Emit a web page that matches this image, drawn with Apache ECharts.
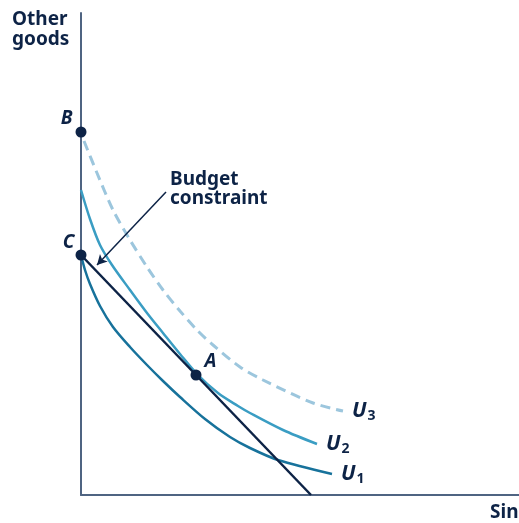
<!DOCTYPE html>
<html>
<head>
<meta charset="utf-8">
<script src="https://cdn.jsdelivr.net/npm/echarts@6/dist/echarts.min.js"></script>
<style>
  html, body { margin: 0; padding: 0; background: #fff; }
  #chart { width: 519px; height: 523px; }
</style>
</head>
<body>
<div id="chart"></div>
<script>
// values (x = sin, y = other goods, arbitrary units)
var budgetLine = [[0, 240], [230, 0]];
var u1 = [[0, 240], [4, 225], [9, 211], [19, 189], [32, 168], [49, 148], [66, 130],
	[82, 114], [99, 98], [124, 76], [149, 58], [169, 47], [197, 35], [251, 21]];
var u2 = [[0, 305], [9, 276], [19, 250], [31, 230], [49, 205], [66, 182], [82, 162],
	[99, 141], [116, 121], [137, 102], [157, 89], [169, 82], [202, 65], [236, 51]];
var u3 = [[3, 354], [16, 322], [32, 285], [49, 255], [66, 228], [82, 205], [99, 184],
	[116, 165], [132, 150], [159, 128], [182, 115], [232, 92], [262, 84]];
var points = [
	{ name: 'B', value: [0, 363] },
	{ name: 'C', value: [0, 240] },
	{ name: 'A', value: [115, 120] }
];
var arrowFrom = [85, 303];
var arrowTo = [16, 230];

var navy = '#0d2346';
var font = 'Noto Sans';

function uLabel(n) {
	return {
		show: true,
		distance: 9,
		formatter: '{u|U}{s|' + n + '}',
		rich: {
			u: { fontFamily: font, fontSize: 21, fontWeight: 'bold', fontStyle: 'italic', color: navy },
			s: { fontFamily: font, fontSize: 14, fontWeight: 'bold', color: navy, padding: [11, 0, 0, 1] }
		}
	};
}

var labelPlace = {
	B: { position: 'left', distance: 3, offset: [0, -13] },
	C: { position: 'left', distance: 1, offset: [0, -12] },
	A: { position: 'right', distance: 3, offset: [0, -13] }
};

var myChart = echarts.init(document.getElementById('chart'));
var option = {
	animation: false,
	grid: { left: 81, right: 0, top: 13, bottom: 28 },
	xAxis: {
		type: 'value', min: 0, max: 438,
		axisLine: { lineStyle: { color: '#4f6482', width: 2 } },
		axisTick: { show: false }, axisLabel: { show: false }, splitLine: { show: false }
	},
	yAxis: {
		type: 'value', min: 0, max: 482,
		axisLine: { show: true, lineStyle: { color: '#4f6482', width: 2 } },
		axisTick: { show: false }, axisLabel: { show: false }, splitLine: { show: false }
	},
	graphic: [
		{
			type: 'text', left: 12, top: 10,
			style: { text: 'Other\ngoods', fontFamily: font, fontSize: 19, fontWeight: 'bold', lineHeight: 20, fill: navy }
		},
		{
			type: 'text', left: 490, top: 503,
			style: { text: 'Sin', fontFamily: font, fontSize: 19, fontWeight: 'bold', fill: navy }
		},
		{
			type: 'text', left: 170, top: 170,
			style: { text: 'Budget\nconstraint', fontFamily: font, fontSize: 19, fontWeight: 'bold', lineHeight: 19, fill: navy }
		}
	],
	series: [
		{
			name: 'U3', type: 'line', data: u3, smooth: 0.3, showSymbol: false, clip: false,
			lineStyle: { color: '#9cc6dd', width: 3, type: [10, 6] },
			endLabel: uLabel(3), z: 2
		},
		{
			name: 'U2', type: 'line', data: u2, smooth: 0.3, showSymbol: false, clip: false,
			lineStyle: { color: '#3a9dc3', width: 2.5 },
			endLabel: uLabel(2), z: 2
		},
		{
			name: 'U1', type: 'line', data: u1, smooth: 0.3, showSymbol: false, clip: false,
			lineStyle: { color: '#17729b', width: 2.5 },
			endLabel: uLabel(1), z: 2
		},
		{
			name: 'Budget', type: 'line', data: budgetLine, showSymbol: false, clip: false,
			lineStyle: { color: navy, width: 2.5 }, z: 3,
			markLine: {
				silent: true,
				symbol: ['none', 'arrow'],
				symbolSize: [8, 10],
				label: { show: false },
				lineStyle: { color: navy, width: 1.5, type: 'solid' },
				data: [[{ coord: arrowFrom }, { coord: arrowTo }]]
			}
		},
		{
			name: 'points', type: 'scatter', symbolSize: 11, clip: false,
			itemStyle: { color: navy, opacity: 1 }, z: 5,
			emphasis: { disabled: true },
			data: points.map(function (p) {
				var pl = labelPlace[p.name];
				return {
					name: p.name, value: p.value,
					label: {
						show: true, formatter: p.name,
						position: pl.position, distance: pl.distance, offset: pl.offset,
						fontFamily: font, fontSize: 19, fontWeight: 'bold', fontStyle: 'italic', color: navy
					}
				};
			})
		}
	]
};
myChart.setOption(option);
</script>
</body>
</html>
